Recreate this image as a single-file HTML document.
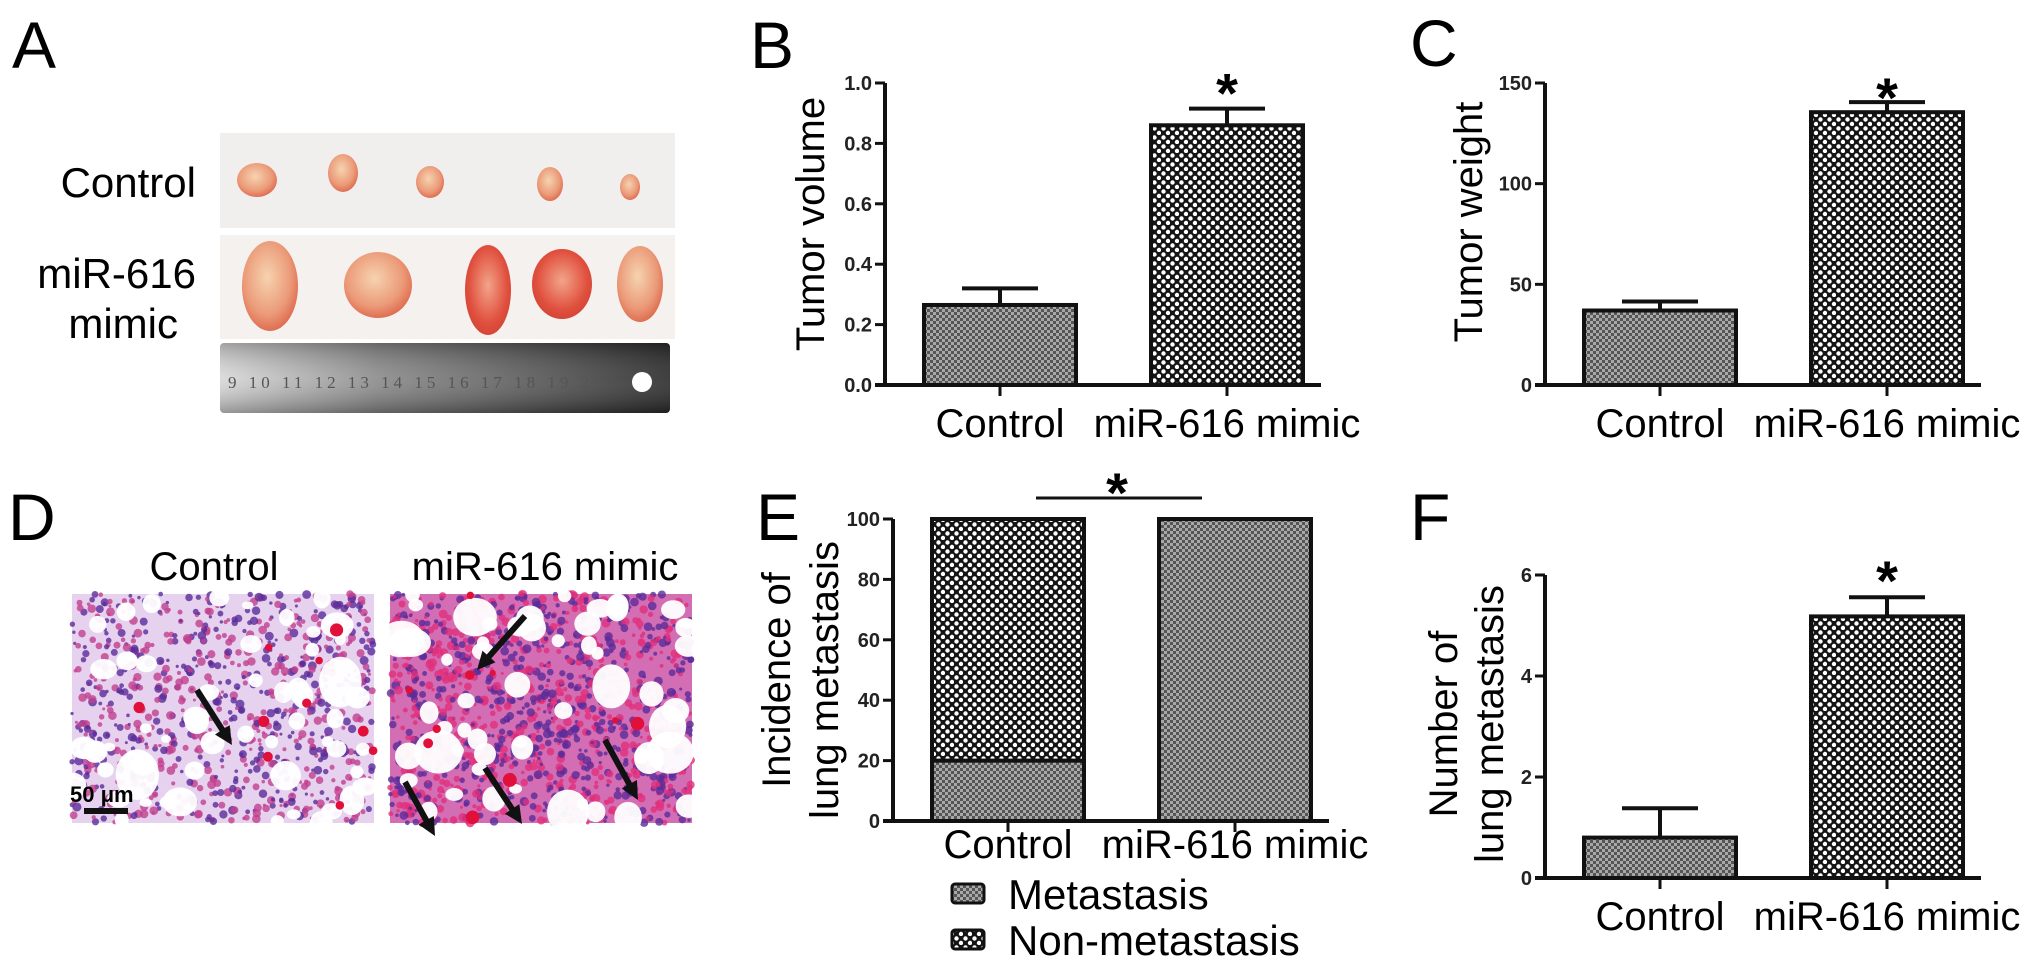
<!DOCTYPE html>
<html><head><meta charset="utf-8"><style>
html,body{margin:0;padding:0;background:#fff;}
svg{display:block;font-family:"Liberation Sans",Arial,sans-serif;}
</style></head><body>
<svg id="fig" width="2031" height="970" viewBox="0 0 2031 970" xmlns="http://www.w3.org/2000/svg">
<defs>
  <pattern id="fine" width="6" height="6" patternUnits="userSpaceOnUse">
    <rect width="6" height="6" fill="#a8a8a8"/>
    <rect width="3" height="3" fill="#555"/>
    <rect x="3" y="3" width="3" height="3" fill="#555"/>
  </pattern>
  <pattern id="coarse" width="9" height="9" patternUnits="userSpaceOnUse">
    <rect width="9" height="9" fill="#151515"/>
    <circle cx="2.5" cy="2.5" r="2.2" fill="#fff"/>
    <circle cx="7" cy="7" r="2.2" fill="#fff"/>
  </pattern>
  <linearGradient id="ruler" x1="0" x2="1" y1="0" y2="0">
    <stop offset="0" stop-color="#d8d8d8"/><stop offset="0.35" stop-color="#8a8a8a"/><stop offset="1" stop-color="#2a2a2a"/>
  </linearGradient>
  <linearGradient id="rulerV" x1="0" x2="0" y1="0" y2="1">
    <stop offset="0" stop-color="#000" stop-opacity="0.25"/><stop offset="0.5" stop-color="#fff" stop-opacity="0.1"/><stop offset="1" stop-color="#000" stop-opacity="0.3"/>
  </linearGradient>
  <radialGradient id="tumor" cx="0.45" cy="0.4" r="0.7">
    <stop offset="0" stop-color="#f6d3b0"/><stop offset="0.6" stop-color="#eb9a78"/><stop offset="1" stop-color="#d9573f"/>
  </radialGradient>
  <radialGradient id="tumorRed" cx="0.5" cy="0.45" r="0.7">
    <stop offset="0" stop-color="#f2a48a"/><stop offset="0.6" stop-color="#e0503e"/><stop offset="1" stop-color="#c93a2f"/>
  </radialGradient>
</defs>

<text x="12" y="68" font-size="66">A</text>
<text x="750" y="68" font-size="66">B</text>
<text x="1410" y="66" font-size="66">C</text>
<text x="8" y="540" font-size="66">D</text>
<text x="756" y="540" font-size="66">E</text>
<text x="1410" y="540" font-size="66">F</text>

<g>
  <rect x="220" y="133" width="455" height="95" fill="#f1efee"/>
  <rect x="220" y="235" width="455" height="104" fill="#f4f1ef"/>
  <rect x="220" y="343" width="450" height="70" fill="url(#ruler)" rx="4"/>
  <rect x="220" y="343" width="450" height="70" fill="url(#rulerV)" rx="4"/>
  <circle cx="642" cy="382" r="10" fill="#fff"/>
  <text x="228" y="388" font-size="17" font-family="Liberation Serif,serif" fill="#555" letter-spacing="4">9  10 11 12 13 14 15 16 17 18 19 20</text>
  <ellipse cx="257" cy="180" rx="20" ry="17" fill="url(#tumor)"/>
  <ellipse cx="343" cy="173" rx="15" ry="19" fill="url(#tumor)"/>
  <ellipse cx="430" cy="182" rx="14" ry="16" fill="url(#tumor)"/>
  <ellipse cx="550" cy="184" rx="13" ry="17" fill="url(#tumor)"/>
  <ellipse cx="630" cy="187" rx="10" ry="13" fill="url(#tumor)"/>
  <ellipse cx="270" cy="286" rx="28" ry="45" fill="url(#tumor)"/>
  <ellipse cx="378" cy="285" rx="34" ry="33" fill="url(#tumor)"/>
  <ellipse cx="488" cy="290" rx="23" ry="45" fill="url(#tumorRed)"/>
  <ellipse cx="562" cy="284" rx="30" ry="35" fill="url(#tumorRed)"/>
  <ellipse cx="640" cy="284" rx="23" ry="38" fill="url(#tumor)"/>
</g>
<text x="196" y="197" font-size="42" text-anchor="end">Control</text>
<text x="196" y="288" font-size="42" text-anchor="end">miR-616</text>
<text x="178" y="338" font-size="42" text-anchor="end">mimic</text>

<text x="214" y="580" font-size="40" text-anchor="middle">Control</text>
<text x="545" y="580" font-size="40" text-anchor="middle">miR-616 mimic</text>
<g id="histoL"></g>
<g id="histoR"></g>
<g id="charts"></g>
</svg>
<script>
// ===== Chart data =====
const categories = ["Control", "miR-616 mimic"];
const volumeMeans = [0.265, 0.86];
const volumeErr = [0.055, 0.055];
const volumeTicks = [0, 0.2, 0.4, 0.6, 0.8, 1.0];
const volumeTickLabels = ["0.0", "0.2", "0.4", "0.6", "0.8", "1.0"];
const weightMeans = [37, 135.5];
const weightErr = [4.5, 5];
const weightTicks = [0, 50, 100, 150];
const weightTickLabels = ["0", "50", "100", "150"];
const metastasisPct = [20, 100];
const nonMetastasisPct = [80, 0];
const incidenceTicks = [0, 20, 40, 60, 80, 100];
const incidenceTickLabels = ["0", "20", "40", "60", "80", "100"];
const numberMeans = [0.8, 5.18];
const numberErr = [0.58, 0.38];
const numberTicks = [0, 2, 4, 6];
const numberTickLabels = ["0", "2", "4", "6"];
const seriesPatterns = ["url(#fine)", "url(#coarse)"];

const NS = "http://www.w3.org/2000/svg";
const root = document.getElementById("charts");
function mk(tag, attrs, parent) {
  const e = document.createElementNS(NS, tag);
  for (const k in attrs) e.setAttribute(k, attrs[k]);
  (parent || root).appendChild(e);
  return e;
}
function makeChart(id, ax, yTop, yBot, maxV) {
  const g = mk("g", {});
  
  
  const yS = v => yBot - (v / maxV) * (yBot - yTop);
  const xC = i => ax + 115 + i * 227;
  return { g, yS, xC, ax, yTop, yBot };
}
function drawAxes(c, ticks, labels) {
  const ya = mk("line", { x1: c.ax, x2: c.ax, y1: c.yTop, y2: c.yBot, stroke: "#111", "stroke-width": 4 }, c.g);
  
  
  const xa = mk("line", { x1: c.ax - 10, x2: c.ax + 436, y1: c.yBot, y2: c.yBot, stroke: "#111", "stroke-width": 4 }, c.g);
  
  
  ticks.forEach((t, i) => {
    const y = c.yS(t);
    mk("line", { x1: c.ax - 10, x2: c.ax, y1: y, y2: y, stroke: "#111", "stroke-width": 3 }, c.g);
    const tl = mk("text", { x: c.ax - 13, y: y + 7, "font-size": 20, "font-weight": "bold", "text-anchor": "end", fill: "#222" }, c.g);
    tl.textContent = labels[i];
    
    
  });
  categories.forEach((cat, i) => {
    mk("line", { x1: c.xC(i), x2: c.xC(i), y1: c.yBot, y2: c.yBot + 11, stroke: "#111", "stroke-width": 3 }, c.g);
  });
}
function drawXLabels(c, y) {
  categories.forEach((cat, i) => {
    const t = mk("text", { x: c.xC(i), y: y, "font-size": 40, "text-anchor": "middle" }, c.g);
    t.textContent = cat;
    
    
  });
}
function drawBars(c, means, errs, name) {
  means.forEach((m, i) => {
    const x = c.xC(i) - 76, y = c.yS(m);
    const b = mk("rect", { x: x, y: y, width: 152, height: c.yBot - y, fill: seriesPatterns[i], stroke: "#111", "stroke-width": 4 }, c.g);
    
    
    const ye = c.yS(m + errs[i]);
    const el = mk("path", { d: `M${c.xC(i)},${y} V${ye} M${c.xC(i) - 38},${ye} H${c.xC(i) + 38}`, stroke: "#111", "stroke-width": 4, fill: "none" }, c.g);
    
    
  });
}
function star(x, y) {
  const s = mk("text", { x: x, y: y, "font-size": 56, "font-weight": "bold", "text-anchor": "middle" });
  s.textContent = "*";
  
  
}
function yTitle(lines, xs, cy, size) {
  lines.forEach((ln, i) => {
    const t = mk("text", { x: xs[i], y: cy, "font-size": size, "text-anchor": "middle", "dominant-baseline": "central", transform: `rotate(-90 ${xs[i]} ${cy})` });
    t.textContent = ln;
    
    
  });
}

const cB = makeChart("chart-tumor-volume", 885, 83, 385, 1.0);
drawBars(cB, volumeMeans, volumeErr, "volume");
drawAxes(cB, volumeTicks, volumeTickLabels);
drawXLabels(cB, 437);
star(cB.xC(1), cB.yS(volumeMeans[1] + volumeErr[1]) + 4);
yTitle(["Tumor volume"], [811], 224, 40);

const cC = makeChart("chart-tumor-weight", 1545, 83, 385, 150);
drawBars(cC, weightMeans, weightErr, "weight");
drawAxes(cC, weightTicks, weightTickLabels);
drawXLabels(cC, 437);
star(cC.xC(1), cC.yS(weightMeans[1] + weightErr[1]) + 15);
yTitle(["Tumor weight"], [1469], 222, 40);

const cE = makeChart("chart-incidence", 893, 519, 821, 100);
categories.forEach((cat, i) => {
  const x = cE.xC(i) - 76;
  const yM = cE.yS(metastasisPct[i]);
  const yN = cE.yS(metastasisPct[i] + nonMetastasisPct[i]);
  const r1 = mk("rect", { x: x, y: yM, width: 152, height: cE.yBot - yM, fill: "url(#fine)", stroke: "#111", "stroke-width": 4 }, cE.g);
  
  
  if (nonMetastasisPct[i] > 0) {
    const r2 = mk("rect", { x: x, y: yN, width: 152, height: yM - yN, fill: "url(#coarse)", stroke: "#111", "stroke-width": 4 }, cE.g);
    
    
  }
});
drawAxes(cE, incidenceTicks, incidenceTickLabels);
drawXLabels(cE, 858);
const sl = mk("line", { x1: 1036, x2: 1202, y1: 498, y2: 498, stroke: "#111", "stroke-width": 3 });


star(1117, 512);
yTitle(["Incidence of", "lung metastasis"], [777, 825], 680, 40);
[["Metastasis", "url(#fine)", 894], ["Non-metastasis", "url(#coarse)", 940]].forEach((L, i) => {
  const g = mk("g", {});
  
  
  mk("rect", { x: 952, y: L[2] - 10, width: 32, height: 19, rx: 3, fill: L[1], stroke: "#111", "stroke-width": 3 }, g);
  const t = mk("text", { x: 1008, y: L[2] + 15, "font-size": 42 }, g);
  t.textContent = L[0];
});

const cF = makeChart("chart-metastasis-number", 1545, 575, 878, 6);
drawBars(cF, numberMeans, numberErr, "number");
drawAxes(cF, numberTicks, numberTickLabels);
drawXLabels(cF, 930);
star(cF.xC(1), 600);
yTitle(["Number of", "lung metastasis"], [1444, 1490], 724, 40);

// ===== Histology textures (decorative) =====
let seed = 7;
function rnd() { seed = (seed * 16807) % 2147483647; return seed / 2147483647; }
function histo(gid, x0, base, dense, pink, arrows) {
  const g = document.getElementById(gid);
  const w = 302, h = 229, y0 = 594;
  mk("rect", { x: x0, y: y0, width: w, height: h, fill: base }, g);
  for (let i = 0; i < dense; i++) {
    mk("circle", { cx: x0 + rnd() * w, cy: y0 + rnd() * h, r: 1.5 + rnd() * 3, fill: rnd() < 0.5 ? "#5a2c9a" : pink, opacity: 0.8 }, g);
  }
  for (let i = 0; i < 55; i++) {
    const r = 5 + rnd() * (i < 14 ? 20 : 9);
    mk("ellipse", { cx: x0 + rnd() * w, cy: y0 + rnd() * h, rx: r, ry: r * (0.7 + rnd() * 0.5), fill: "#fff", opacity: 0.95 }, g);
  }
  for (let i = 0; i < 10; i++) {
    mk("circle", { cx: x0 + rnd() * w, cy: y0 + rnd() * h, r: 3 + rnd() * 4, fill: "#e0103a" }, g);
  }
  arrows.forEach(a => {
    const [x1, y1, x2, y2] = a;
    const ang = Math.atan2(y2 - y1, x2 - x1), L = 20;
    mk("line", { x1: x1, y1: y1, x2: x2 - Math.cos(ang) * 12, y2: y2 - Math.sin(ang) * 12, stroke: "#111", "stroke-width": 6 }, g);
    const p1 = [x2 - L * Math.cos(ang - 0.45), y2 - L * Math.sin(ang - 0.45)];
    const p2 = [x2 - L * Math.cos(ang + 0.45), y2 - L * Math.sin(ang + 0.45)];
    mk("polygon", { points: `${x2},${y2} ${p1.join(',')} ${p2.join(',')}`, fill: "#111" }, g);
  });
}
histo("histoL", 72, "#e6d2ee", 900, "#c2408e", [[197, 690, 232, 745]]);
histo("histoR", 390, "#d46eb4", 1300, "#e0307a", [[525, 616, 477, 670], [405, 782, 435, 836], [485, 768, 522, 824], [605, 740, 638, 800]]);
const sb = document.getElementById("histoL");
const sbt = mk("text", { x: 70, y: 802, "font-size": 22, "font-weight": "bold" }, sb);
sbt.textContent = "50 μm";


mk("rect", { x: 84, y: 808, width: 44, height: 6, fill: "#111" }, sb);
</script>
</body></html>
